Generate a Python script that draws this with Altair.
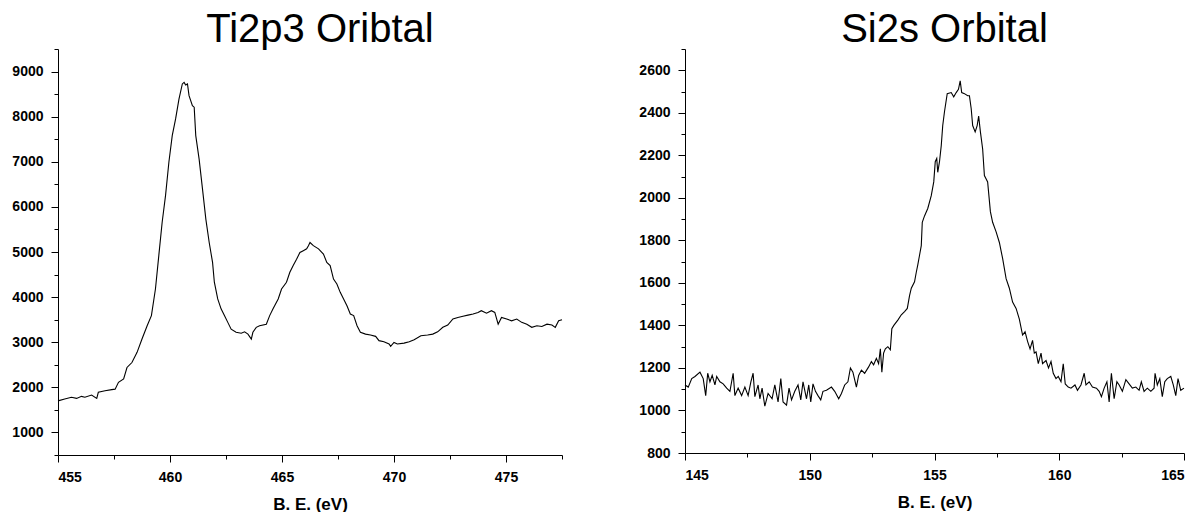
import altair as alt
import pandas as pd

# Ti 2p3 region: binding energy (eV) and counts
ti_be = [455.00, 455.30, 455.60, 455.83, 456.05, 456.20, 456.50, 456.73, 456.80, 457.10,
         457.40, 457.55, 457.70, 457.93, 458.08, 458.30, 458.53, 458.75, 458.98, 459.17,
         459.35, 459.50, 459.65, 459.80, 459.95, 460.10, 460.25, 460.40, 460.55, 460.63,
         460.70, 460.78, 460.85, 461.00, 461.08, 461.15, 461.30, 461.45, 461.60, 461.75,
         461.90, 461.98, 462.13, 462.28, 462.43, 462.58, 462.73, 462.95, 463.18, 463.33,
         463.48, 463.63, 463.70, 463.85, 464.00, 464.30, 464.45, 464.60, 464.83, 464.98,
         465.20, 465.35, 465.50, 465.65, 465.80, 465.95, 466.10, 466.18, 466.25, 466.40,
         466.63, 466.85, 467.00, 467.15, 467.30, 467.45, 467.60, 467.75, 467.90, 468.05,
         468.20, 468.35, 468.50, 468.73, 468.95, 469.18, 469.33, 469.55, 469.78, 469.85,
         470.00, 470.15, 470.45, 470.68, 470.90, 471.20, 471.50, 471.73, 471.95, 472.18,
         472.40, 472.63, 472.85, 473.08, 473.30, 473.53, 473.75, 473.90, 474.13, 474.35,
         474.50, 474.65, 474.80, 475.03, 475.25, 475.48, 475.70, 475.93, 476.15, 476.38,
         476.60, 476.83, 477.05, 477.20, 477.35, 477.50]
ti_counts = [1700, 1740, 1780, 1755, 1800, 1780, 1830, 1755, 1890, 1925,
             1950, 1960, 2110, 2185, 2440, 2550, 2775, 3070, 3365, 3590,
             4180, 4920, 5660, 6250, 6990, 7580, 7950, 8390, 8725, 8760,
             8700, 8725, 8465, 8245, 8210, 7580, 7060, 6400, 5730, 5210,
             4770, 4330, 3960, 3740, 3590, 3440, 3290, 3220, 3200, 3230,
             3180, 3070, 3220, 3330, 3365, 3400, 3590, 3740, 3960, 4180,
             4330, 4550, 4700, 4840, 4990, 5030, 5070, 5140, 5210, 5140,
             5070, 4955, 4770, 4700, 4400, 4290, 4105, 3960, 3810, 3625,
             3590, 3365, 3220, 3180, 3160, 3130, 3035, 3010, 2960, 2910,
             2995, 2960, 2980, 3010, 3055, 3145, 3160, 3180, 3230, 3330,
             3380, 3515, 3550, 3575, 3600, 3625, 3660, 3700, 3645, 3700,
             3660, 3400, 3550, 3515, 3475, 3515, 3440, 3400, 3330, 3365,
             3350, 3400, 3380, 3330, 3475, 3500]

# Si 2s region: binding energy (eV) and counts
si_be = [145.00, 145.13, 145.27, 145.40, 145.60, 145.73, 145.83, 145.91, 146.00, 146.09,
         146.20, 146.27, 146.40, 146.53, 146.67, 146.80, 146.93, 147.00, 147.13, 147.27,
         147.40, 147.53, 147.64, 147.73, 147.80, 147.93, 148.00, 148.09, 148.20, 148.33,
         148.49, 148.60, 148.73, 148.84, 148.93, 149.07, 149.17, 149.27, 149.40, 149.53,
         149.64, 149.73, 149.87, 149.96, 150.04, 150.13, 150.23, 150.33, 150.44, 150.53,
         150.67, 150.87, 151.00, 151.16, 151.27, 151.40, 151.53, 151.63, 151.73, 151.87,
         151.96, 152.07, 152.20, 152.36, 152.47, 152.56, 152.67, 152.76, 152.83, 152.89,
         152.96, 153.03, 153.13, 153.23, 153.29, 153.37, 153.53, 153.67, 153.80, 153.91,
         154.00, 154.07, 154.20, 154.27, 154.33, 154.40, 154.47, 154.51, 154.60, 154.73,
         154.87, 154.97, 155.03, 155.09, 155.13, 155.20, 155.27, 155.33, 155.40, 155.51,
         155.67, 155.77, 155.87, 155.96, 156.03, 156.09, 156.20, 156.33, 156.40, 156.47,
         156.53, 156.63, 156.71, 156.77, 156.84, 156.93, 157.00, 157.13, 157.24, 157.33,
         157.47, 157.60, 157.73, 157.87, 158.00, 158.13, 158.27, 158.40, 158.53, 158.63,
         158.73, 158.83, 158.93, 159.00, 159.07, 159.16, 159.27, 159.33, 159.47, 159.57,
         159.67, 159.76, 159.87, 159.96, 160.07, 160.16, 160.24, 160.36, 160.47, 160.63,
         160.73, 160.87, 161.00, 161.07, 161.20, 161.33, 161.49, 161.60, 161.69, 161.80,
         161.91, 162.00, 162.09, 162.20, 162.31, 162.40, 162.53, 162.67, 162.80, 162.93,
         163.07, 163.20, 163.29, 163.40, 163.53, 163.67, 163.80, 163.84, 163.93, 164.03,
         164.13, 164.23, 164.33, 164.47, 164.57, 164.67, 164.76, 164.87, 165.00]
si_counts = [1120, 1110, 1150, 1160, 1180, 1150, 1070, 1175, 1135, 1165,
             1120, 1160, 1135, 1125, 1105, 1090, 1175, 1070, 1105, 1070,
             1110, 1070, 1135, 1175, 1065, 1120, 1055, 1105, 1020, 1080,
             1055, 1120, 1040, 1150, 1040, 1025, 1105, 1050, 1090, 1120,
             1050, 1135, 1055, 1120, 1040, 1125, 1090, 1070, 1050, 1090,
             1095, 1110, 1090, 1055, 1080, 1120, 1135, 1200, 1180, 1110,
             1165, 1190, 1175, 1205, 1230, 1215, 1245, 1220, 1290, 1180,
             1270, 1290, 1300, 1285, 1385, 1400, 1425, 1450, 1465, 1480,
             1540, 1575, 1605, 1650, 1685, 1730, 1775, 1885, 1915, 1950,
             2010, 2075, 2170, 2185, 2120, 2170, 2245, 2340, 2405, 2490,
             2495, 2475, 2495, 2510, 2550, 2495, 2490, 2480, 2480, 2420,
             2340, 2310, 2340, 2385, 2310, 2230, 2105, 2075, 1935, 1885,
             1840, 1790, 1715, 1620, 1575, 1510, 1480, 1430, 1355, 1370,
             1325, 1290, 1330, 1270, 1275, 1220, 1270, 1220, 1235, 1200,
             1230, 1175, 1150, 1160, 1135, 1220, 1125, 1110, 1105, 1120,
             1095, 1120, 1175, 1120, 1135, 1110, 1105, 1090, 1065, 1105,
             1135, 1040, 1175, 1055, 1135, 1120, 1090, 1145, 1125, 1105,
             1110, 1095, 1135, 1090, 1105, 1090, 1105, 1175, 1120, 1150,
             1065, 1135, 1150, 1160, 1120, 1070, 1150, 1095, 1105]

# Axis tick positions (major ticks labelled, minor ticks between)
ti_xticks = [455, 457.5, 460, 462.5, 465, 467.5, 470, 472.5, 475, 477.5]
ti_yticks = [500, 1000, 1500, 2000, 2500, 3000, 3500, 4000, 4500, 5000,
             5500, 6000, 6500, 7000, 7500, 8000, 8500, 9000, 9500]
si_xticks = [145, 147.5, 150, 152.5, 155, 157.5, 160, 162.5, 165]
si_yticks = [800, 900, 1000, 1100, 1200, 1300, 1400, 1500, 1600, 1700, 1800,
             1900, 2000, 2100, 2200, 2300, 2400, 2500, 2600, 2700]

ti = pd.DataFrame({"be": ti_be, "counts": ti_counts})
si = pd.DataFrame({"be": si_be, "counts": si_counts})

LABEL_FONT = "Liberation Sans"
TITLE_FONT = "Liberation Sans"


def axis(values, major_test, title=None):
    opts = dict(
        values=values,
        format="d",
        grid=False,
        domainColor="black",
        domainWidth=1,
        tickColor="black",
        tickWidth=1,
        tickSize={"condition": {"test": major_test, "value": 7}, "value": 4},
        labelExpr=f"{major_test} ? datum.label : ''",
        labelFont=LABEL_FONT,
        labelFontWeight="bold",
        labelFontSize=14,
        labelColor="black",
        labelPadding=8,
        labelOverlap=False,
        titleFont=LABEL_FONT,
        titleFontWeight="bold",
        titleFontSize=17,
        titleColor="black",
        titlePadding=12,
    )
    if title is not None:
        opts["title"] = title
    return alt.Axis(**opts)


def panel(df, xdom, ydom, xticks, yticks, xmajor, ymajor, name, w, h):
    return (
        alt.Chart(df)
        .mark_line(color="black", strokeWidth=1.1)
        .encode(
            x=alt.X("be:Q", scale=alt.Scale(domain=xdom, nice=False, zero=False),
                    axis=axis(xticks, f"datum.value % {xmajor} === 0", "B. E. (eV)")),
            y=alt.Y("counts:Q", scale=alt.Scale(domain=ydom, nice=False, zero=False),
                    axis=axis(yticks, f"datum.value % {ymajor} === 0"), title=None),
        )
        .properties(
            width=w,
            height=h,
            title=alt.TitleParams(name, font=TITLE_FONT, fontSize=40, fontWeight="normal",
                                  color="black", anchor="middle", dx=10, offset=-8),
        )
    )


left = panel(ti, [455, 477.5], [500, 9500], ti_xticks, ti_yticks, 5, 1000,
             "Ti2p3 Oribtal", 504, 406)
right = panel(si, [145, 165], [800, 2700], si_xticks, si_yticks, 5, 200,
              "Si2s Orbital", 499, 404)

chart = (
    alt.hconcat(left, right, spacing=73)
    .properties(padding={"left": 11, "top": 10, "right": 0, "bottom": 0}, background="white")
    .configure_view(stroke=None)
)

chart.save("out.html", embed_options={"renderer": "svg", "actions": False})
